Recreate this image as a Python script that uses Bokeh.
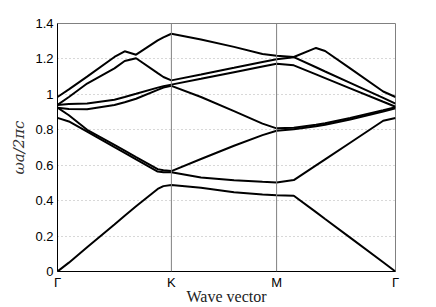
from bokeh.plotting import figure
from bokeh.models import Range1d, FixedTicker, Span
from bokeh.embed import file_html
from bokeh.resources import INLINE

# k-path knots (Γ=0, K=1, M=1.924, Γ=2.968)
kx = [0, 0.10, 0.26, 0.50, 0.59, 0.69, 0.88, 0.93, 1.0, 1.26, 1.55, 1.80,
      1.924, 2.075, 2.27, 2.35, 2.57, 2.86, 2.968]

band1 = [0, 0.050, 0.137, 0.265, 0.315, 0.368, 0.466, 0.482, 0.488, 0.473, 0.447, 0.435,
         0.430, 0.428, 0.335, 0.296, 0.191, 0.052, 0]
band2 = [0.867, 0.847, 0.789, 0.702, 0.670, 0.633, 0.564, 0.560, 0.560, 0.531, 0.515, 0.506,
         0.503, 0.516, 0.599, 0.633, 0.727, 0.851, 0.867]
band3 = [0.925, 0.882, 0.800, 0.715, 0.683, 0.646, 0.578, 0.572, 0.567, 0.635, 0.710, 0.770,
         0.795, 0.803, 0.820, 0.828, 0.858, 0.903, 0.922]
band4 = [0.925, 0.918, 0.916, 0.940, 0.955, 0.975, 1.025, 1.038, 1.048, 0.985, 0.905, 0.835,
         0.808, 0.811, 0.829, 0.837, 0.867, 0.911, 0.928]
band5 = [0.940, 0.945, 0.948, 0.970, 0.985, 1.003, 1.038, 1.046, 1.055, 1.088, 1.125, 1.157,
         1.173, 1.164, 1.113, 1.092, 1.034, 0.958, 0.930]
band6 = [0.940, 0.985, 1.061, 1.147, 1.188, 1.204, 1.120, 1.098, 1.079, 1.112, 1.150, 1.183,
         1.198, 1.210, 1.153, 1.129, 1.065, 0.980, 0.948]
band7 = [0.985, 1.028, 1.100, 1.211, 1.243, 1.224, 1.305, 1.322, 1.342, 1.310, 1.268, 1.228,
         1.218, 1.211, 1.262, 1.245, 1.147, 1.016, 0.985]
bands = [band1, band2, band3, band4, band5, band6, band7]

x_ticks = [0, 1.0, 1.924, 2.968]
x_labels = ["Γ", "K", "M", "Γ"]
y_ticks = [0, 0.2, 0.4, 0.6, 0.8, 1.0, 1.2, 1.4]
y_labels = ["0", "0.2", "0.4", "0.6", "0.8", "1", "1.2", "1.4"]

p = figure(width=436, height=307, output_backend="svg", toolbar_location=None,
           x_range=Range1d(0, 2.968), y_range=Range1d(0, 1.4),
           min_border_left=57, min_border_right=41, min_border_top=23, min_border_bottom=35)

p.background_fill_color = "white"
p.border_fill_color = "white"
p.outline_line_color = "#808080"
p.outline_line_width = 1

for b in bands:
    p.line(kx, b, line_color="black", line_width=2)

# axes
p.xaxis.ticker = FixedTicker(ticks=x_ticks)
p.xaxis.major_label_overrides = {t: l for t, l in zip(x_ticks, x_labels)}
p.yaxis.ticker = FixedTicker(ticks=y_ticks)
p.yaxis.major_label_overrides = {t: l for t, l in zip(y_ticks, y_labels)}
for ax in (p.xaxis, p.yaxis):
    ax.major_tick_in = 0
    ax.major_tick_out = 0
    ax.minor_tick_in = 0
    ax.minor_tick_out = 0
    ax.axis_line_color = "black"
    ax.major_label_text_font = "Liberation Sans"
    ax.major_label_text_font_size = "13px"
    ax.major_label_text_color = "black"
    ax.major_label_standoff = 4

p.xaxis.major_label_standoff = 3
p.xaxis.axis_label = "Wave vector"
p.xaxis.axis_label_text_font = "Liberation Serif"
p.xaxis.axis_label_text_font_style = "normal"
p.xaxis.axis_label_text_font_size = "16px"
p.xaxis.axis_label_text_color = "#222222"
p.xaxis.axis_label_standoff = -5

p.yaxis.axis_label = "ωa/2πc"
p.yaxis.axis_label_text_font = "DejaVu Serif"
p.yaxis.axis_label_text_font_style = "italic"
p.yaxis.axis_label_text_font_size = "15px"
p.yaxis.axis_label_text_color = "#333333"
p.yaxis.axis_label_standoff = 4

# grids
p.xgrid.grid_line_color = None
p.ygrid.grid_line_color = "#b0b0b0"
p.ygrid.grid_line_dash = "1 3"
p.ygrid.grid_line_width = 1

for xv in x_ticks[1:3]:
    p.add_layout(Span(location=xv, dimension="height", line_color="#808080", line_width=1))

open("out.html", "w").write(file_html(p, INLINE))
